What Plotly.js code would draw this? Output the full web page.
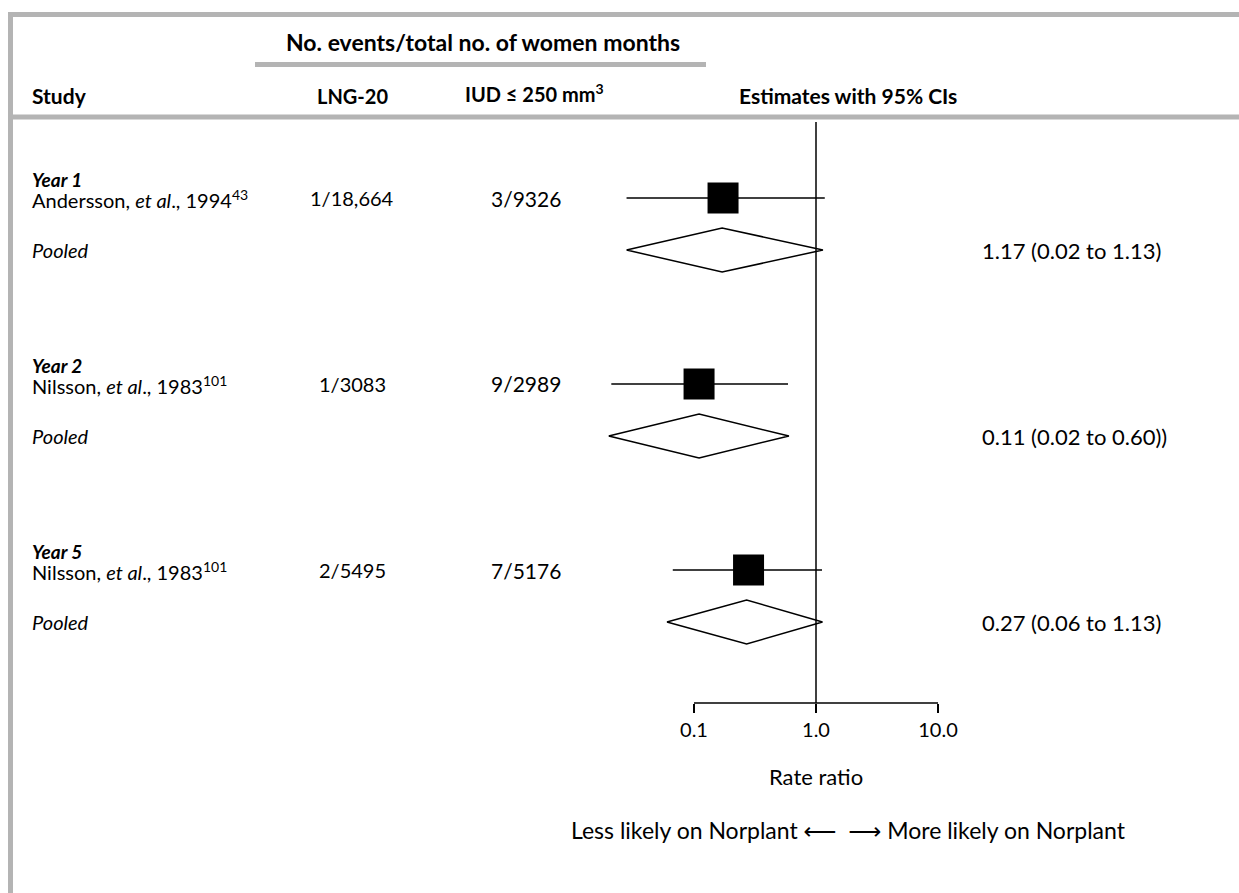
<!DOCTYPE html>
<html>
<head>
<meta charset="utf-8">
<script src="https://cdn.plot.ly/plotly-3.0.1.min.js"></script>
<style>
  html, body { margin: 0; padding: 0; background: #fff; }
  #chart { width: 1239px; height: 893px; }
</style>
</head>
<body>
<div id="chart"></div>
<script>
// Forest plot: rate ratios (LNG-20 vs IUD <= 250 mm3) by year of follow-up

const groupLabels = ['Year 1', 'Year 2', 'Year 5'];
const studyLabels = [
  'Andersson, <i>et al</i>., 1994<sup>43</sup>',
  'Nilsson, <i>et al</i>., 1983<sup>101</sup>',
  'Nilsson, <i>et al</i>., 1983<sup>101</sup>'
];
const lngEvents = ['1/18,664', '1/3083', '2/5495'];
const iudEvents = ['3/9326', '9/2989', '7/5176'];

// individual study estimates (rate ratio and 95% CI)
const studyRR = [0.173, 0.11, 0.28];
const studyLow = [0.028, 0.021, 0.067];
const studyHigh = [1.18, 0.59, 1.12];

// pooled estimates
const pooledRR = [0.17, 0.11, 0.27];
const pooledLow = [0.028, 0.02, 0.06];
const pooledHigh = [1.14, 0.60, 1.13];
const pooledText = ['1.17 (0.02 to 1.13)', '0.11 (0.02 to 0.60))', '0.27 (0.06 to 1.13)'];

const axisTicks = [0.1, 1, 10];
const axisTickText = ['0.1', '1.0', '10.0'];

// ---- page geometry (pixels) ----
const W = 1239, H = 893;
const ORIGIN_PX = 816;      // x pixel of rate ratio 1
const DECADE_PX = 122;      // pixels per factor of ten
const PLOT_BOTTOM = 703;    // y pixel of the scale line
const FIRST_ROW = 198;      // y pixel of the first study row
const GROUP_STEP = 186;
const HEAD_OFFSET = -19;
const POOLED_OFFSET = 52;
const DIAMOND_HALF = 22;
const GRAY = '#b4b4b4';
const FONT = 'Lato, "Open Sans", "DejaVu Sans", sans-serif';

const px = v => v / W;
const py = v => 1 - v / H;
const studyY = g => FIRST_ROW + GROUP_STEP * g;
const pooledY = g => studyY(g) + POOLED_OFFSET;
const headY = g => studyY(g) + HEAD_OFFSET;

const traces = [];

// confidence interval lines
const ciX = [], ciY = [];
studyRR.forEach((_, g) => {
  ciX.push(studyLow[g], studyHigh[g], null);
  ciY.push(studyY(g), studyY(g), null);
});
traces.push({
  type: 'scatter', mode: 'lines', x: ciX, y: ciY,
  line: { color: '#000', width: 1.5 }, hoverinfo: 'skip', showlegend: false
});

// study point estimates
traces.push({
  type: 'scatter', mode: 'markers', x: studyRR, y: studyRR.map((_, g) => studyY(g)),
  marker: { symbol: 'square', size: 31, color: '#000', line: { width: 0 } },
  hoverinfo: 'x', showlegend: false, cliponaxis: false
});

// pooled diamonds
pooledRR.forEach((rr, g) => {
  const yc = pooledY(g);
  traces.push({
    type: 'scatter', mode: 'lines', fill: 'toself', fillcolor: '#fff',
    x: [pooledLow[g], rr, pooledHigh[g], rr, pooledLow[g]],
    y: [yc, yc - DIAMOND_HALF, yc, yc + DIAMOND_HALF, yc],
    line: { color: '#000', width: 1.5 }, hoverinfo: 'skip', showlegend: false
  });
});

const ann = [];
function addText(text, x, y, size, opts) {
  ann.push(Object.assign({
    text: text, xref: 'paper', yref: 'paper', x: px(x), y: py(y),
    xanchor: 'left', yanchor: 'middle', showarrow: false,
    font: { family: FONT, size: size, color: '#000' }
  }, opts || {}));
}

// header
addText('<b>No. events/total no. of women months</b>', 483, 42, 23, { xanchor: 'center' });
addText('<b>Study</b>', 30, 96, 21);
addText('<b>LNG-20</b>', 352, 96, 20, { xanchor: 'center' });
addText('<b>IUD ≤ 250 mm<sup>3</sup></b>', 534, 93, 20, { xanchor: 'center' });
addText('<b>Estimates with 95% CIs</b>', 848, 96, 21, { xanchor: 'center' });

// rows
groupLabels.forEach((lab, g) => {
  addText('<b><i>' + lab + '</i></b>', 30, headY(g), 19);
  addText(studyLabels[g], 30, studyY(g) + 1, 20);
  addText(lngEvents[g], 352, studyY(g), 20, { xanchor: 'center' });
  addText(iudEvents[g], 526, studyY(g), 21, { xanchor: 'center' });
  addText('<i>Pooled</i>', 30, pooledY(g), 20);
  addText(pooledText[g], 980, pooledY(g), 22);
});

// axis caption and direction note
addText('Rate ratio', ORIGIN_PX, 776, 22, { xanchor: 'center' });
addText('Less likely on Norplant ⟵  ⟶ More likely on Norplant', 848, 830, 23, { xanchor: 'center' });

const shapes = [
  // frame
  { type: 'line', xref: 'paper', yref: 'paper', x0: px(8), x1: px(W), y0: py(14.5), y1: py(14.5), line: { color: GRAY, width: 5 } },
  { type: 'line', xref: 'paper', yref: 'paper', x0: px(10.5), x1: px(10.5), y0: py(12), y1: py(H), line: { color: GRAY, width: 5 } },
  { type: 'line', xref: 'paper', yref: 'paper', x0: px(8), x1: px(W), y0: py(117), y1: py(117), line: { color: GRAY, width: 5 } },
  { type: 'line', xref: 'paper', yref: 'paper', x0: px(255), x1: px(706), y0: py(64.5), y1: py(64.5), line: { color: GRAY, width: 5 } },
  // line of no effect
  { type: 'line', xref: 'x', yref: 'paper', x0: 1, x1: 1, y0: py(122), y1: py(PLOT_BOTTOM), line: { color: '#000', width: 1.5 } },
  // scale line
  { type: 'line', xref: 'x', yref: 'paper', x0: axisTicks[0], x1: axisTicks[axisTicks.length - 1], y0: py(PLOT_BOTTOM), y1: py(PLOT_BOTTOM), line: { color: '#000', width: 1.5 } }
];

const layout = {
  width: W, height: H,
  margin: { l: 0, r: 0, t: 0, b: 0, pad: 0 },
  paper_bgcolor: '#fff', plot_bgcolor: 'rgba(0,0,0,0)',
  showlegend: false,
  xaxis: {
    type: 'log', domain: [0, 1],
    range: [(0 - ORIGIN_PX) / DECADE_PX, (W - ORIGIN_PX) / DECADE_PX],
    tickmode: 'array', tickvals: axisTicks, ticktext: axisTickText,
    ticks: 'outside', ticklen: 9, tickwidth: 1.5, tickcolor: '#000',
    tickfont: { family: FONT, size: 20, color: '#000' },
    showgrid: false, zeroline: false, showline: false, automargin: false, fixedrange: true
  },
  yaxis: {
    domain: [1 - PLOT_BOTTOM / H, 1], range: [PLOT_BOTTOM, 0],
    visible: false, showgrid: false, zeroline: false, automargin: false, fixedrange: true
  },
  shapes: shapes,
  annotations: ann
};

Plotly.newPlot('chart', traces, layout, { displayModeBar: false, staticPlot: true });
</script>
</body>
</html>
